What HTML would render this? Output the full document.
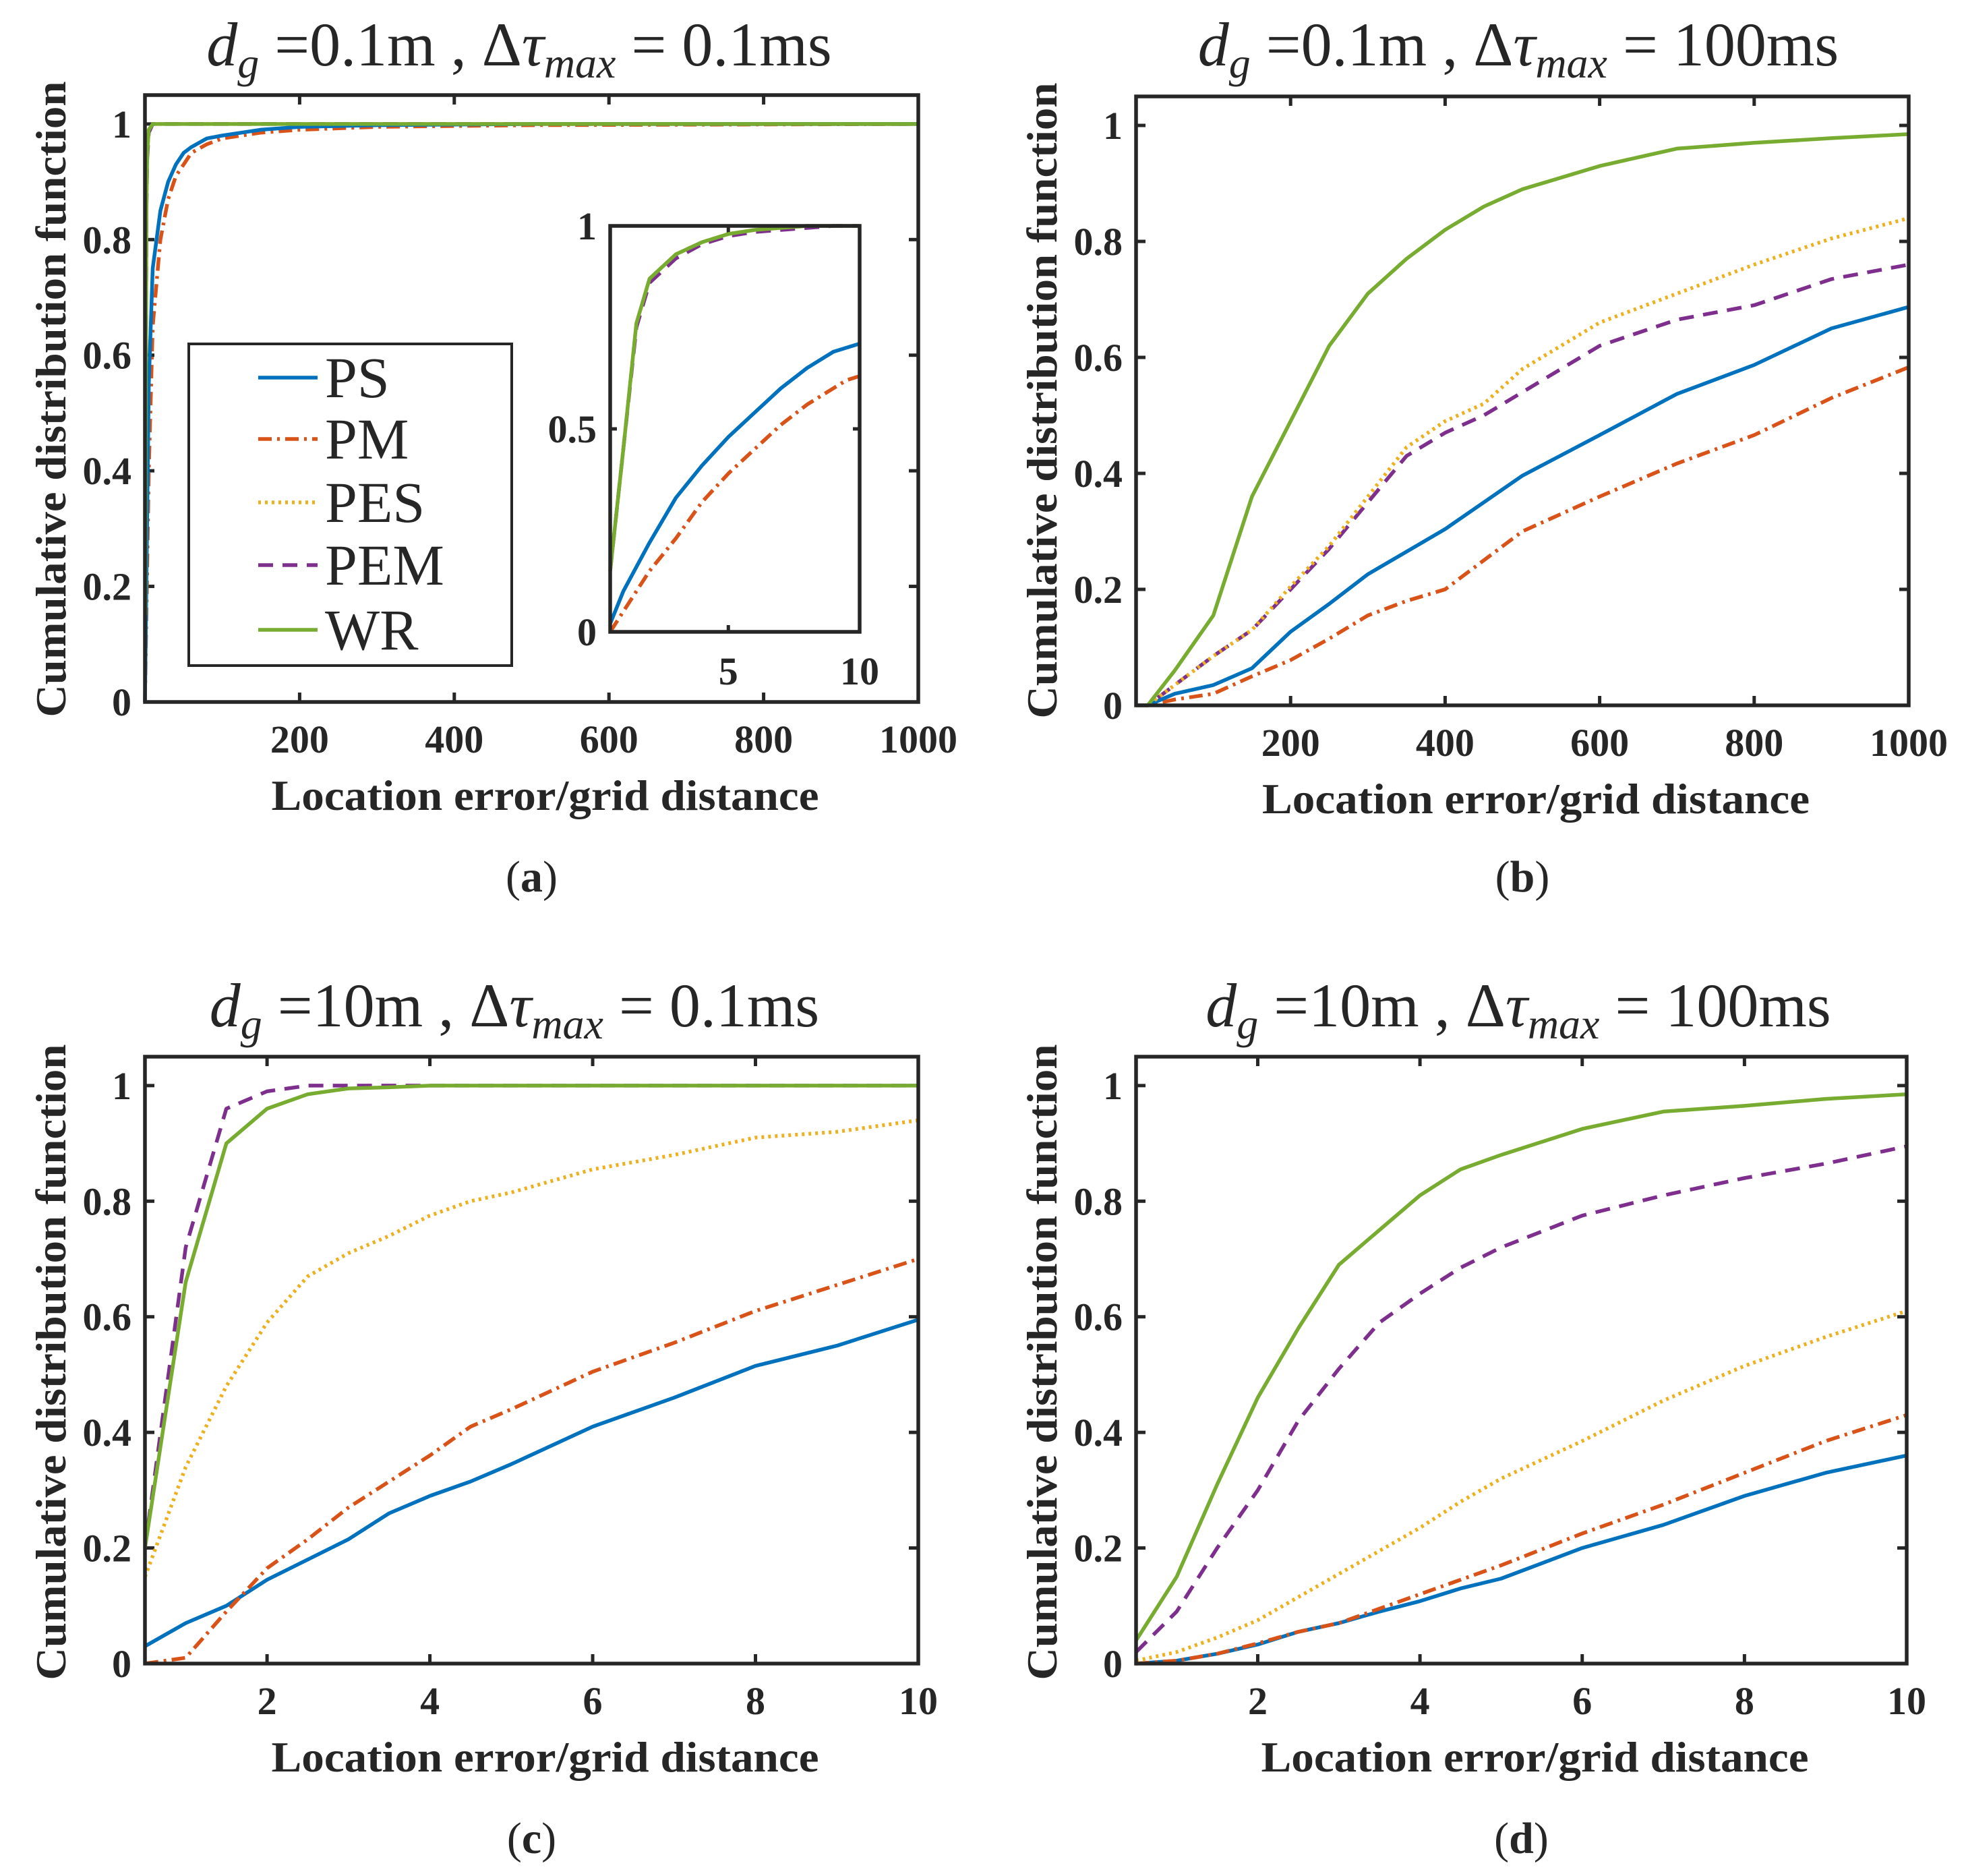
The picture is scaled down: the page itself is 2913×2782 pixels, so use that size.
<!DOCTYPE html>
<html><head><meta charset="utf-8"><style>
html,body{margin:0;padding:0;background:#fff}
svg{display:block}
text{font-family:"Liberation Serif",serif;fill:#262626}
</style></head><body>
<svg id="fig" xmlns="http://www.w3.org/2000/svg" width="2913" height="2782" viewBox="0 0 2913 2782"></svg>
<script>
// ---------- data ----------
const seriesNames = ["PS","PM","PES","PEM","WR"];
// panel (a) main
const aX = [0,5,10,20,30,40,50,60,80,100,150,200,300,500,1000];
const aPS = [0,0.55,0.75,0.85,0.9,0.93,0.95,0.96,0.975,0.98,0.99,0.995,0.998,1,1];
const aPM = [0,0.4,0.65,0.8,0.87,0.91,0.93,0.95,0.965,0.975,0.985,0.99,0.995,0.998,1];
const aXE = [0.5,1,2,3,5,10,20,1000];
const aPES = [0.15,0.5,0.87,0.95,0.99,1,1,1];
const aPEM = [0.14,0.48,0.86,0.94,0.985,1,1,1];
const aWR = [0.15,0.5,0.87,0.95,0.99,1,1,1];
// panel (a) inset
const iX = [0.5,1,1.5,2,3,4,5,6,7,8,9,9.5,10];
const iPS = [0.02,0.1,0.16,0.22,0.33,0.41,0.48,0.54,0.6,0.65,0.69,0.7,0.71];
const iPM = [0,0.05,0.1,0.15,0.23,0.32,0.39,0.45,0.51,0.56,0.6,0.62,0.63];
const iPES = [0.15,0.45,0.76,0.87,0.93,0.96,0.98,0.99,0.995,1,1,1,1];
const iPEM = [0.15,0.45,0.75,0.86,0.92,0.955,0.975,0.985,0.99,0.995,1,1,1];
const iWR = [0.15,0.45,0.76,0.87,0.93,0.96,0.98,0.99,0.995,1,1,1,1];
// panel (b)
const bX = [0,15,50,100,150,200,250,300,350,400,450,500,600,700,800,900,1000];
const bPS = [0,0,0.02,0.035,0.064,0.127,0.175,0.226,0.265,0.304,0.35,0.396,0.466,0.537,0.587,0.65,0.687];
const bPM = [0,0,0.01,0.02,0.05,0.078,0.115,0.155,0.18,0.2,0.25,0.3,0.36,0.417,0.466,0.53,0.583];
const bPES = [0,0,0.035,0.085,0.13,0.205,0.275,0.36,0.445,0.49,0.52,0.58,0.66,0.71,0.76,0.805,0.84];
const bPEM = [0,0,0.035,0.085,0.13,0.2,0.27,0.35,0.43,0.47,0.5,0.54,0.62,0.665,0.69,0.735,0.76];
const bWR = [0,0,0.06,0.155,0.36,0.49,0.62,0.71,0.77,0.82,0.86,0.89,0.93,0.96,0.97,0.978,0.985];
// panels (c),(d)
const cdX = [0.5,1,1.5,2,2.5,3,3.5,4,4.5,5,6,7,8,9,10];
const cPS = [0.03,0.07,0.1,0.145,0.18,0.215,0.26,0.29,0.315,0.345,0.41,0.46,0.515,0.55,0.595];
const cPM = [0,0.01,0.09,0.165,0.215,0.27,0.315,0.36,0.41,0.44,0.505,0.555,0.61,0.655,0.7];
const cPES = [0.15,0.34,0.48,0.59,0.67,0.71,0.74,0.775,0.8,0.815,0.855,0.88,0.91,0.92,0.94];
const cPEM = [0.2,0.72,0.96,0.99,1,1,1,1,1,1,1,1,1,1,1];
const cWR = [0.2,0.66,0.9,0.96,0.985,0.995,0.997,1,1,1,1,1,1,1,1];
const dPS = [0,0.005,0.017,0.033,0.055,0.07,0.09,0.108,0.13,0.147,0.2,0.24,0.29,0.33,0.36];
const dPM = [0,0.005,0.017,0.035,0.055,0.07,0.095,0.12,0.145,0.17,0.225,0.275,0.33,0.385,0.43];
const dPES = [0.005,0.02,0.045,0.075,0.115,0.155,0.195,0.235,0.28,0.32,0.385,0.455,0.515,0.565,0.61];
const dPEM = [0.02,0.09,0.2,0.3,0.42,0.51,0.59,0.64,0.685,0.72,0.775,0.81,0.84,0.865,0.895];
const dWR = [0.04,0.15,0.31,0.46,0.58,0.69,0.75,0.81,0.855,0.88,0.925,0.955,0.965,0.977,0.985];
const yTicks = [0,0.2,0.4,0.6,0.8,1];
const yTickLabels = ["0","0.2","0.4","0.6","0.8","1"];
const xTicksBig = [200,400,600,800,1000];
const xTicksSmall = [2,4,6,8,10];
const insetXTicks = [5,10];
const insetYTicks = [0,0.5,1];
const insetYTickLabels = ["0","0.5","1"];

// ---------- drawing ----------
const NS = "http://www.w3.org/2000/svg";
const svg = document.getElementById("fig");
const COLORS = ["#0072BD","#D95319","#EDB120","#7E2F8E","#77AC30"];
const DASH = ["", "20 8 4 8", "4 6", "22 14", ""];
function mk(tag, attrs, parent){
  const e = document.createElementNS(NS, tag);
  for (const k in attrs) e.setAttribute(k, attrs[k]);
  (parent||svg).appendChild(e);
  return e;
}
function scales(ax){
  return {
    sx: v => ax.L + (v - ax.x0)/(ax.x1 - ax.x0)*(ax.R - ax.L),
    sy: v => ax.B - (v - ax.y0)/(ax.y1 - ax.y0)*(ax.B - ax.T)
  };
}
function drawLine(g, ax, xs, ys, si, name){
  const s = scales(ax);
  const d = xs.map((x,i)=>(i?"L":"M")+s.sx(x).toFixed(1)+" "+s.sy(ys[i]).toFixed(1)).join(" ");
  const p = mk("path",{d:d,fill:"none",stroke:COLORS[si],"stroke-width":5.5,"stroke-linejoin":"round"},g);
  if (DASH[si]) p.setAttribute("stroke-dasharray", DASH[si]);
  
  
}
function drawAxes(g, ax, xt, xtl, yt, ytl, fs){
  const s = scales(ax);
  const tl = ax.tick || 14;
  xt.forEach((v,i)=>{
    const x = s.sx(v);
    mk("line",{x1:x,x2:x,y1:ax.B,y2:ax.B-tl,stroke:"#262626","stroke-width":5},g);
    mk("line",{x1:x,x2:x,y1:ax.T,y2:ax.T+tl,stroke:"#262626","stroke-width":5},g);
    const t = mk("text",{x:x,y:ax.B+ (ax.xlOff||75),"text-anchor":"middle","font-size":fs,"font-weight":"bold"},g);
    t.textContent = xtl[i];
    
    
  });
  yt.forEach((v,i)=>{
    const y = s.sy(v);
    mk("line",{x1:ax.L,x2:ax.L+tl,y1:y,y2:y,stroke:"#262626","stroke-width":5},g);
    mk("line",{x1:ax.R,x2:ax.R-tl,y1:y,y2:y,stroke:"#262626","stroke-width":5},g);
    const t = mk("text",{x:ax.L-20,y:y+20,"text-anchor":"end","font-size":fs,"font-weight":"bold"},g);
    t.textContent = ytl[i];
    
    
  });
}
function frame(g, ax){
  const r = mk("rect",{x:ax.L,y:ax.T,width:ax.R-ax.L,height:ax.B-ax.T,fill:"none",stroke:"#262626","stroke-width":5.5},g);
  
  
}
function title(g, cx, by, dg, tau){
  const t = mk("text",{x:cx,y:by,"text-anchor":"middle","font-size":92,fill:"#000"},g);
  
  
  t.innerHTML = '<tspan font-style="italic">d</tspan><tspan font-style="italic" font-size="64" dy="18">g</tspan><tspan dy="-18"> =' + dg + ' , Δ</tspan><tspan font-style="italic">τ</tspan><tspan font-style="italic" font-size="64" dy="18">max</tspan><tspan dy="-18"> = ' + tau + '</tspan>';
}
function labels(g, ax, yc, sub, subY){
  const cx = (ax.L+ax.R)/2 + 20;
  const xl = mk("text",{x:cx,y:ax.B+160,"text-anchor":"middle","font-size":64,"font-weight":"bold",textLength:812,lengthAdjust:"spacingAndGlyphs"},g);
  xl.textContent = "Location error/grid distance";
  
  
  const yl = mk("text",{x:0,y:0,"text-anchor":"middle","font-size":64,"font-weight":"bold",textLength:943,lengthAdjust:"spacingAndGlyphs",transform:`translate(${ax.L-118},${yc}) rotate(-90)`},g);
  yl.textContent = "Cumulative distribution function";
  
  
  const sl = mk("text",{x:cx-20,y:subY,"text-anchor":"middle","font-size":66,"font-weight":"bold"},g);
  sl.innerHTML = '<tspan font-weight="normal">(</tspan>' + sub + '<tspan font-weight="normal">)</tspan>';
  
  
}
function group(name){
  const g = mk("g",{});
  
  
  return g;
}

// Panel A
const gA = group("panel-a");
const axA = {L:215,R:1362,T:141,B:1041,x0:0,x1:1000,y0:0,y1:1.05};
title(gA, 770, 97, "0.1m", "0.1ms");
drawAxes(gA, axA, xTicksBig, xTicksBig.map(String), yTicks, yTickLabels, 58);
drawLine(gA, axA, aXE, aPES, 2, "pes-line");
drawLine(gA, axA, aXE, aPEM, 3, "pem-line");
drawLine(gA, axA, aX, aPM, 1, "pm-line");
drawLine(gA, axA, aX, aPS, 0, "ps-line");
drawLine(gA, axA, aXE, aWR, 4, "wr-line");
frame(gA, axA);
labels(gA, axA, 592, "a", 1322);
// inset
const gI = group("inset-chart");
const axI = {L:905,R:1275,T:335,B:937,x0:0.5,x1:10,y0:0,y1:1,tick:10,xlOff:78};
mk("rect",{x:axI.L,y:axI.T,width:axI.R-axI.L,height:axI.B-axI.T,fill:"#fff"},gI);
drawAxes(gI, axI, insetXTicks, insetXTicks.map(String), insetYTicks, insetYTickLabels, 58);
drawLine(gI, axI, iX, iPES, 2, "inset-pes-line");
drawLine(gI, axI, iX, iPEM, 3, "inset-pem-line");
drawLine(gI, axI, iX, iPM, 1, "inset-pm-line");
drawLine(gI, axI, iX, iPS, 0, "inset-ps-line");
drawLine(gI, axI, iX, iWR, 4, "inset-wr-line");
frame(gI, axI);
// legend
const gL = group("legend");
mk("rect",{x:280,y:510,width:479,height:477,fill:"#fff",stroke:"#262626","stroke-width":4},gL);
const legY = [560,651,745,838,934];
seriesNames.forEach((n,i)=>{
  const ln = mk("line",{x1:383,x2:471,y1:legY[i],y2:legY[i],stroke:COLORS[i],"stroke-width":5.5},gL);
  if (DASH[i]) ln.setAttribute("stroke-dasharray", DASH[i]);
  const t = mk("text",{x:482,y:legY[i]+29,"font-size":86,fill:"#000"},gL);
  t.textContent = n;
  
  
});

// Panel B
const gB = group("panel-b");
const axB = {L:1685,R:2831,T:143,B:1046,x0:0,x1:1000,y0:0,y1:1.05};
title(gB, 2252, 97, "0.1m", "100ms");
drawAxes(gB, axB, xTicksBig, xTicksBig.map(String), yTicks, yTickLabels, 58);
drawLine(gB, axB, bX, bPM, 1, "pm-line");
drawLine(gB, axB, bX, bPS, 0, "ps-line");
drawLine(gB, axB, bX, bPEM, 3, "pem-line");
drawLine(gB, axB, bX, bPES, 2, "pes-line");
drawLine(gB, axB, bX, bWR, 4, "wr-line");
frame(gB, axB);
labels(gB, axB, 594, "b", 1322);

// Panel C
const gC = group("panel-c");
const axC = {L:215,R:1362,T:1567,B:2467,x0:0.5,x1:10,y0:0,y1:1.05};
title(gC, 763, 1522, "10m", "0.1ms");
drawAxes(gC, axC, xTicksSmall, xTicksSmall.map(String), yTicks, yTickLabels, 58);
drawLine(gC, axC, cdX, cPS, 0, "ps-line");
drawLine(gC, axC, cdX, cPM, 1, "pm-line");
drawLine(gC, axC, cdX, cPES, 2, "pes-line");
drawLine(gC, axC, cdX, cPEM, 3, "pem-line");
drawLine(gC, axC, cdX, cWR, 4, "wr-line");
frame(gC, axC);
labels(gC, axC, 2020, "c", 2748);

// Panel D
const gD = group("panel-d");
const axD = {L:1685,R:2828,T:1567,B:2467,x0:0.5,x1:10,y0:0,y1:1.05};
title(gD, 2252, 1522, "10m", "100ms");
drawAxes(gD, axD, xTicksSmall, xTicksSmall.map(String), yTicks, yTickLabels, 58);
drawLine(gD, axD, cdX, dPS, 0, "ps-line");
drawLine(gD, axD, cdX, dPM, 1, "pm-line");
drawLine(gD, axD, cdX, dPES, 2, "pes-line");
drawLine(gD, axD, cdX, dPEM, 3, "pem-line");
drawLine(gD, axD, cdX, dWR, 4, "wr-line");
frame(gD, axD);
labels(gD, axD, 2020, "d", 2748);
</script>
</body></html>
